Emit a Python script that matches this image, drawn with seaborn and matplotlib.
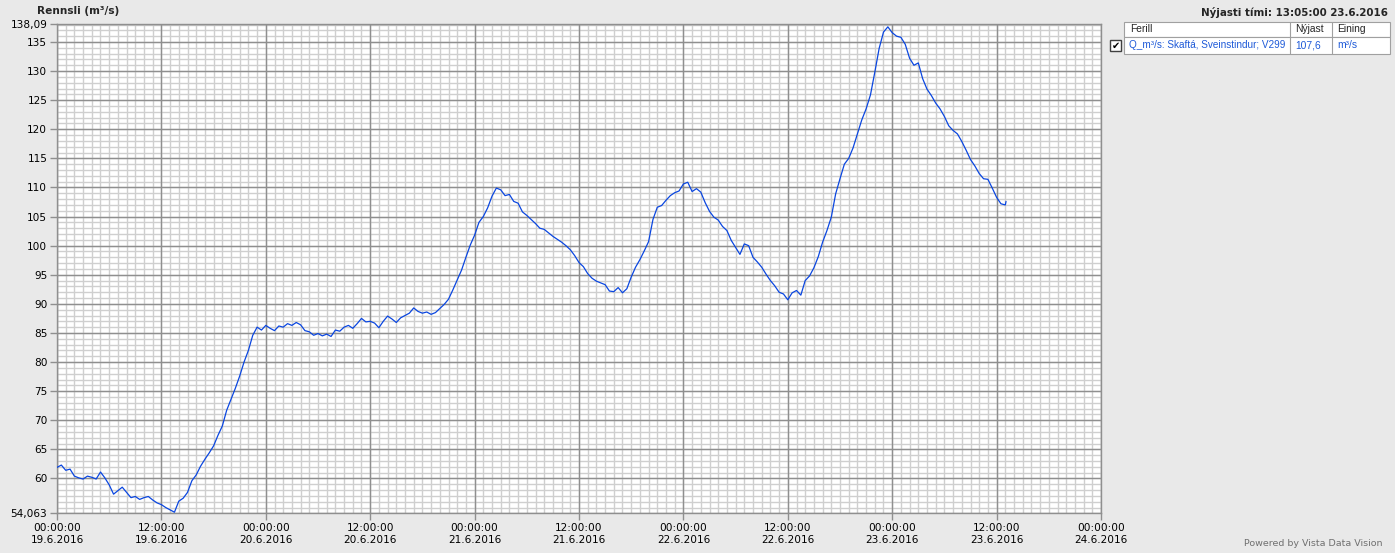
import numpy as np
import pandas as pd
import matplotlib
matplotlib.use("Agg")
import matplotlib.pyplot as plt
import matplotlib.dates as mdates
from matplotlib.ticker import FixedLocator, FuncFormatter
from matplotlib.patches import Rectangle
import seaborn as sns

# half-hourly readings of discharge (m3/s), starting 19.6.2016 00:00
flow = [
    61.9, 62.3, 61.4, 61.6, 60.4, 60.1, 59.9, 60.4, 60.2, 59.9,
    61.1, 60.1, 58.9, 57.3, 57.9, 58.5, 57.6, 56.7, 56.9, 56.4,
    56.7, 56.9, 56.3, 55.8, 55.5, 55.0, 54.6, 54.2, 56.1, 56.6,
    57.6, 59.6, 60.6, 62.1, 63.3, 64.4, 65.6, 67.4, 69.0, 71.7,
    73.6, 75.5, 77.6, 80.0, 82.0, 84.6, 86.0, 85.5, 86.3, 85.8,
    85.4, 86.2, 86.0, 86.6, 86.3, 86.8, 86.4, 85.4, 85.2, 84.6,
    84.9, 84.5, 84.8, 84.4, 85.5, 85.3, 86.0, 86.3, 85.8, 86.6,
    87.5, 86.9, 87.0, 86.7, 85.9, 87.0, 87.9, 87.4, 86.8, 87.6,
    88.0, 88.4, 89.3, 88.7, 88.4, 88.6, 88.2, 88.5, 89.2, 89.9,
    90.8, 92.4, 94.1, 95.8, 98.0, 100.1, 101.8, 104.0, 105.0, 106.5,
    108.5, 109.9, 109.6, 108.6, 108.8, 107.6, 107.3, 105.8, 105.2, 104.5,
    103.8, 103.0, 102.8, 102.2, 101.6, 101.1, 100.6, 100.0, 99.3, 98.3,
    97.1, 96.4, 95.2, 94.4, 93.9, 93.6, 93.3, 92.2, 92.1, 92.8,
    91.9, 92.6, 94.6, 96.3, 97.6, 99.1, 100.7, 104.5, 106.6, 106.9,
    107.8, 108.6, 109.1, 109.4, 110.6, 110.9, 109.3, 109.8, 109.2, 107.4,
    105.9, 104.9, 104.4, 103.3, 102.6, 100.9, 99.7, 98.5, 100.3, 100.0,
    98.0, 97.2, 96.3, 95.1, 94.0, 93.1, 92.0, 91.7, 90.7, 91.9,
    92.3, 91.5, 94.0, 94.8, 96.2, 98.1, 100.6, 102.6, 104.9, 108.9,
    111.5, 114.0, 115.0, 116.8, 119.2, 121.6, 123.5, 125.9, 129.8, 133.9,
    136.7, 137.6, 136.6, 136.0, 135.8, 134.6, 132.2, 131.0, 131.4, 128.7,
    126.9, 125.8, 124.5, 123.5, 122.2, 120.6, 119.8, 119.2, 117.9, 116.4,
    114.8, 113.7, 112.4, 111.5, 111.4, 109.9, 108.3, 107.2, 107.0,
]
last_time = "2016-06-23 13:05"
last_value = 107.6

y_min, y_max = 54.063, 138.09
y_ticks = [54.063, 60, 65, 70, 75, 80, 85, 90, 95, 100, 105, 110,
           115, 120, 125, 130, 135, 138.09]
x_start, x_end = "2016-06-19 00:00", "2016-06-24 00:00"

times = list(pd.date_range(x_start, periods=len(flow), freq="30min"))
times.append(pd.Timestamp(last_time))
df = pd.DataFrame({"time": times, "flow": flow + [last_value]})

sns.set_style("white")
plt.rcParams["font.family"] = ["DejaVu Sans"]

W, H = 1395, 553
fig = plt.figure(figsize=(W / 100, H / 100), dpi=100)
fig.patch.set_facecolor("#E9E9E9")

def fx(px):
    return px / W

def fy(py):
    return 1 - py / H

ax = fig.add_axes([fx(57), fy(513), fx(1101) - fx(57), fy(24) - fy(513)])
ax.set_facecolor("white")

sns.lineplot(data=df, x="time", y="flow", ax=ax, color="#0A46E0",
             linewidth=0.9, zorder=5)

ax.set_xlim(pd.Timestamp(x_start), pd.Timestamp(x_end))
ax.set_ylim(y_min, y_max)
ax.set_xlabel("")
ax.set_ylabel("")

# light minor grid (every hour / every 1 m3/s) underneath the major grid
minor_x = pd.date_range(x_start, x_end, freq="1h")
minor_y = np.arange(55, 139, 1)
ax.vlines(minor_x, y_min, y_max, color="#CFCFCF", linewidth=1.0, zorder=0.5)
ax.hlines(minor_y, pd.Timestamp(x_start), pd.Timestamp(x_end),
          color="#CFCFCF", linewidth=1.0, zorder=0.5)

# x axis: major every 12 h
ax.xaxis.set_major_locator(mdates.HourLocator(byhour=[0, 12]))
ax.xaxis.set_major_formatter(mdates.DateFormatter("%H:%M:%S\n%-d.%-m.%Y"))

# y axis
ax.yaxis.set_major_locator(FixedLocator(y_ticks))

def yfmt(v, pos):
    if abs(v - round(v)) < 1e-6:
        return str(int(round(v)))
    return ("%g" % v).replace(".", ",")

ax.yaxis.set_major_formatter(FuncFormatter(yfmt))

ax.grid(which="major", color="#8F8F8F", linewidth=1.0)
ax.set_axisbelow("line")

ax.tick_params(axis="both", which="major", labelsize=7.6, colors="#8F8F8F",
               labelcolor="black", width=1, direction="out")
ax.tick_params(axis="x", which="major", pad=2, length=5, bottom=True)
ax.tick_params(axis="y", which="major", pad=2, length=5, left=True)
for lbl in ax.get_xticklabels():
    lbl.set_horizontalalignment("center")
    lbl.set_linespacing(1.25)

for side in ["top", "right", "bottom", "left"]:
    ax.spines[side].set_color("#8F8F8F")
    ax.spines[side].set_linewidth(1.0)

# titles
fig.text(fx(37), fy(11), "Rennsli (m³/s)", fontsize=7.6, fontweight="bold",
         ha="left", va="center")
fig.text(fx(1388), fy(13), "Nýjasti tími: 13:05:00 23.6.2016", fontsize=7.4,
         fontweight="bold", ha="right", va="center")

# legend table
def rect(x0, y0, x1, y1, **kw):
    fig.add_artist(Rectangle((fx(x0), fy(y1)), fx(x1) - fx(x0), fy(y0) - fy(y1),
                             transform=fig.transFigure, **kw))

rect(1124, 22, 1390, 37, facecolor="white", edgecolor="#A0A0A0", linewidth=0.8)
rect(1124, 37, 1390, 54, facecolor="white", edgecolor="#A0A0A0", linewidth=0.8)
for xs in [1290, 1332]:
    fig.add_artist(plt.Line2D([fx(xs), fx(xs)], [fy(22), fy(54)],
                              transform=fig.transFigure, color="#A0A0A0",
                              linewidth=0.8))
rect(1110, 40, 1121, 51, facecolor="white", edgecolor="#404040", linewidth=1.0)
fig.text(fx(1115.5), fy(45.5), "✔", fontsize=7, ha="center", va="center",
         color="black")

leg_font = ["Liberation Sans", "DejaVu Sans"]
fig.text(fx(1130), fy(29.5), "Ferill", fontsize=7.4, ha="left", va="center",
         family=leg_font)
fig.text(fx(1295), fy(29.5), "Nýjast", fontsize=7.4, ha="left", va="center",
         family=leg_font)
fig.text(fx(1337), fy(29.5), "Eining", fontsize=7.4, ha="left", va="center",
         family=leg_font)
blue = "#1E5AD8"
fig.text(fx(1129), fy(45.5), "Q_m³/s: Skaftá, Sveinstindur; V299", fontsize=7.2,
         ha="left", va="center", color=blue, family=leg_font)
fig.text(fx(1295), fy(45.5), "107,6", fontsize=7.4, ha="left", va="center",
         color=blue, family=leg_font)
fig.text(fx(1337), fy(45.5), "m³/s", fontsize=7.4, ha="left", va="center",
         color=blue, family=leg_font)

fig.text(fx(1383), fy(543), "Powered by Vista Data Vision", fontsize=6.8,
         ha="right", va="center", color="#707070")

fig.savefig("out.png", dpi=100, facecolor=fig.get_facecolor())
